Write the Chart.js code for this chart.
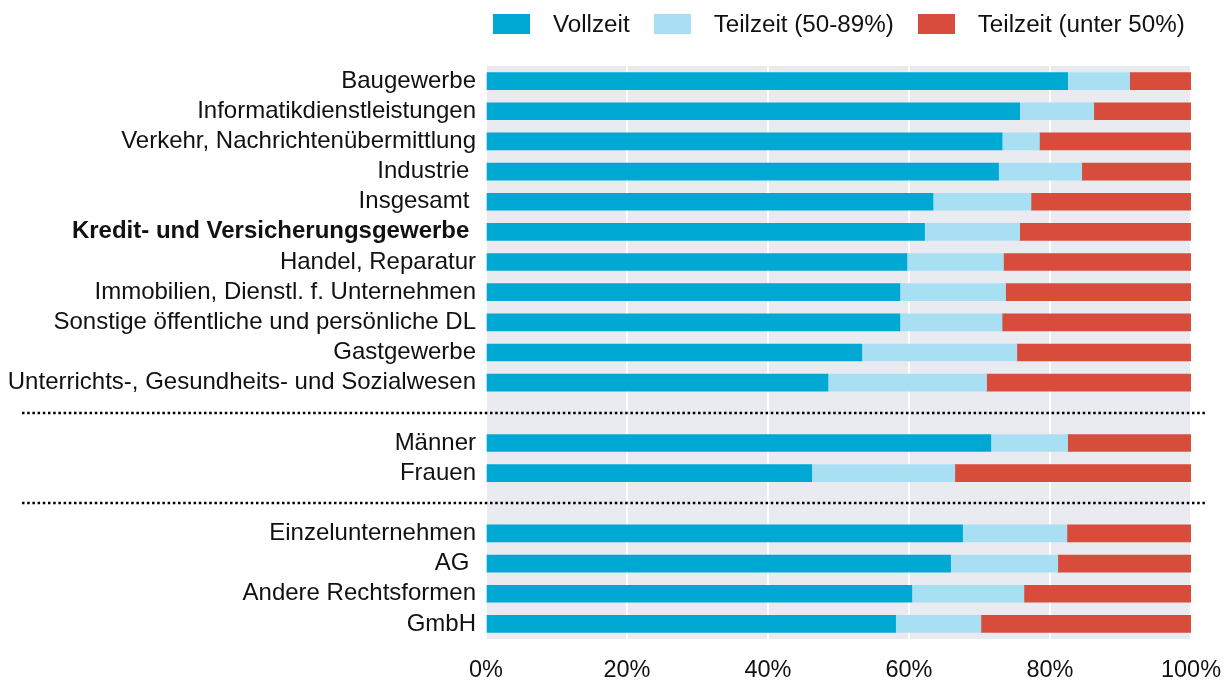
<!DOCTYPE html>
<html>
<head>
<meta charset="utf-8">
<script src="https://cdn.jsdelivr.net/npm/chart.js@4"></script>
<style>
    html, body { margin: 0; padding: 0; background: #fff; }
    #wrap { position: relative; width: 1231px; height: 684px; }
    #legend {
        position: absolute; top: 10px; left: 493px;
        display: flex; align-items: center;
        font-family: "Liberation Sans", Arial, sans-serif; font-size: 24.2px; color: #111;
    }
    #legend .item { display: flex; align-items: center; margin-right: 24px; }
    #legend .box { width: 37px; height: 20px; margin-right: 23px; }
</style>
</head>
<body>
<div id="wrap">
    <div id="legend"></div>
    <canvas id="chart" width="1231" height="684"></canvas>
</div>
<script>
// categories ("" = separator rows)
const categories = [
    "Baugewerbe",
    "Informatikdienstleistungen",
    "Verkehr, Nachrichtenübermittlung",
    "Industrie ",
    "Insgesamt ",
    "Kredit- und Versicherungsgewerbe ",
    "Handel, Reparatur",
    "Immobilien, Dienstl. f. Unternehmen",
    "Sonstige öffentliche und persönliche DL",
    "Gastgewerbe",
    "Unterrichts-, Gesundheits- und Sozialwesen",
    "",
    "Männer",
    "Frauen",
    "",
    "Einzelunternehmen",
    "AG ",
    "Andere Rechtsformen",
    "GmbH"
];

const seriesNames = ["Vollzeit", "Teilzeit (50-89%)", "Teilzeit (unter 50%)"];
const seriesColors = ["#00a9d4", "#a8dff3", "#d84c3c"];

const vollzeit = [82.5, 75.7, 73.2, 72.7, 63.4, 62.2, 59.7, 58.7, 58.7, 53.3, 48.5, null, 71.6, 46.2, null, 67.6, 65.9, 60.4, 58.1];
const teilzeit50 = [8.8, 10.5, 5.3, 11.8, 13.9, 13.5, 13.7, 15.0, 14.5, 22.0, 22.5, null, 10.9, 20.3, null, 14.8, 15.2, 15.9, 12.1];
const teilzeitUnter50 = [8.7, 13.8, 21.5, 15.5, 22.7, 24.3, 26.6, 26.3, 26.8, 24.7, 29.0, null, 17.5, 33.5, null, 17.6, 18.9, 23.7, 29.8];

const xTicks = [0, 20, 40, 60, 80, 100];
const separatorRows = [11, 14];
const boldRows = [5];

const FONT = "'Liberation Sans', Arial, sans-serif";

// html legend
const legend = document.getElementById("legend");
seriesNames.forEach((name, i) => {
    const item = document.createElement("div");
    item.className = "item";
    item.innerHTML = `<span class="box" style="background:${seriesColors[i]}"></span><span>${name}</span>`;
    legend.appendChild(item);
});

const plotBg = {
    id: "plotBg",
    beforeDraw(chart) {
        const { ctx, chartArea: a } = chart;
        ctx.save();
        ctx.fillStyle = "#eaebf1";
        ctx.fillRect(a.left, a.top, a.right - a.left, a.bottom - a.top);
        ctx.restore();
    }
};

const separators = {
    id: "separators",
    afterDraw(chart) {
        const { ctx } = chart;
        const y = chart.scales.y;
        ctx.save();
        ctx.strokeStyle = "#000";
        ctx.lineWidth = 2.6;
        ctx.setLineDash([2.5, 2.7]);
        separatorRows.forEach(i => {
            const py = Math.round(y.getPixelForValue(i));
            ctx.beginPath();
            ctx.moveTo(22, py);
            ctx.lineTo(1207, py);
            ctx.stroke();
        });
        ctx.restore();
    }
};

const data = [vollzeit, teilzeit50, teilzeitUnter50];

new Chart(document.getElementById("chart"), {
    type: "bar",
    data: {
        labels: categories,
        datasets: seriesNames.map((name, i) => ({
            label: name,
            data: data[i],
            backgroundColor: seriesColors[i],
            borderWidth: 0,
            barThickness: 17
        }))
    },
    options: {
        indexAxis: "y",
        responsive: false,
        animation: false,
        layout: { padding: { top: 66, left: 0, right: 40, bottom: 0 } },
        plugins: {
            legend: { display: false },
            tooltip: { enabled: false }
        },
        scales: {
            x: {
                stacked: true,
                min: 0,
                max: 100,
                afterBuildTicks: s => { s.ticks = xTicks.map(v => ({ value: v })); },
                afterFit: s => { s.height = 45; s.paddingLeft = 0; s.paddingRight = 0; },
                border: { display: false },
                grid: { color: "#ffffff", lineWidth: 2, drawTicks: false },
                ticks: {
                    padding: 17,
                    color: "#111",
                    font: { family: FONT, size: 23.5 },
                    callback: v => v + "%"
                }
            },
            y: {
                stacked: true,
                afterFit: s => { s.width = 486; },
                border: { display: false },
                grid: { display: false, drawTicks: false },
                ticks: {
                    padding: 10,
                    color: "#111",
                    autoSkip: false,
                    font: c => ({
                        family: FONT,
                        size: 24,
                        weight: boldRows.includes(c.index) ? "bold" : "normal"
                    })
                }
            }
        }
    },
    plugins: [plotBg, separators]
});
</script>
</body>
</html>
